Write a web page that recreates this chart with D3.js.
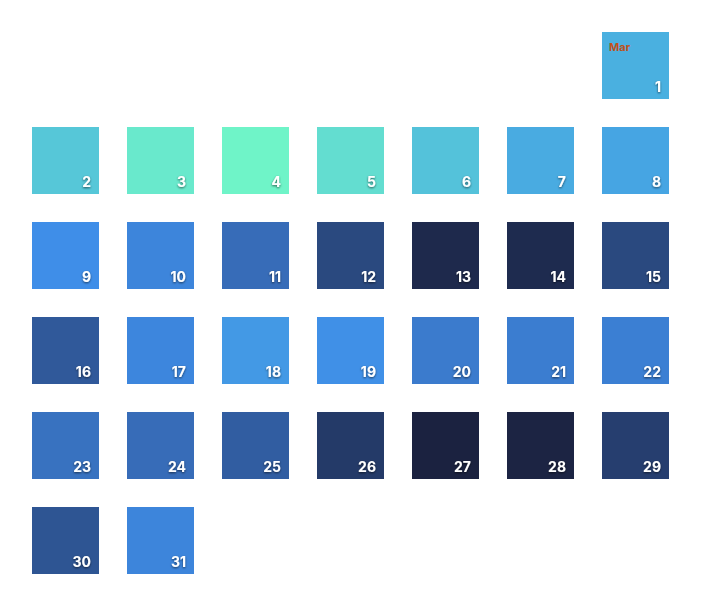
<!DOCTYPE html>
<html><head><meta charset="utf-8">
<script src="https://cdn.jsdelivr.net/npm/d3@7"></script>
<style>body{margin:0;background:#fff}</style></head>
<body><svg id="c" width="701" height="606"></svg>
<script>
const days = d3.range(1, 32);
const values = [0.3,0.2,0.05,0,0.1,0.22,0.32,0.35,0.45,0.5,0.63,0.8,0.96,0.95,0.8,0.72,0.49,0.4,0.44,0.55,0.54,0.53,0.6,0.63,0.7,0.87,1.0,0.99,0.85,0.74,0.5];
const monthLabel = "Mar";
const firstWeekday = 6;

const color = d3.scaleLinear()
  .domain([0,0.3,0.45,0.63,0.87,1])
  .range(["#6ff4c8","#4ab0e0","#3f8ee8","#376cb8","#243a68","#1b2240"]);

const col = d3.scaleBand().domain(d3.range(7)).range([32, 32+95*7-28]).paddingInner(28/95).paddingOuter(0);
const row = d3.scaleBand().domain(d3.range(6)).range([32, 32+95*6-28]).paddingInner(28/95).paddingOuter(0);

const svg = d3.select("#c");
const defs = svg.append("defs");
const f = defs.append("filter").attr("id","sh").attr("x","-50%").attr("y","-50%").attr("width","200%").attr("height","200%");
f.append("feDropShadow").attr("dx",0).attr("dy",1).attr("stdDeviation",1.2).attr("flood-color","#000").attr("flood-opacity",0.6);

const g = svg.selectAll("g.d").data(days).join("g").attr("class","d")
  .attr("transform", d => {
    const i = d - 1 + firstWeekday;
    return `translate(${col(i%7)},${row(Math.floor(i/7))})`;
  });
g.append("rect").attr("width", col.bandwidth()).attr("height", row.bandwidth())
  .attr("fill", (d,i) => color(values[i]));
g.append("text").attr("x", col.bandwidth()-8).attr("y", row.bandwidth()-7)
  .attr("text-anchor","end").attr("fill","#fff").attr("font-family","Inter, sans-serif")
  .attr("font-weight","bold").attr("font-size",14).attr("filter","url(#sh)").text(d => d);
g.filter(d => d === 1).append("text").attr("x",7).attr("y",19)
  .attr("fill","#c0501a").attr("font-family","Inter, sans-serif").attr("font-weight","bold")
  .attr("font-size",11).text(monthLabel);
</script></body></html>
